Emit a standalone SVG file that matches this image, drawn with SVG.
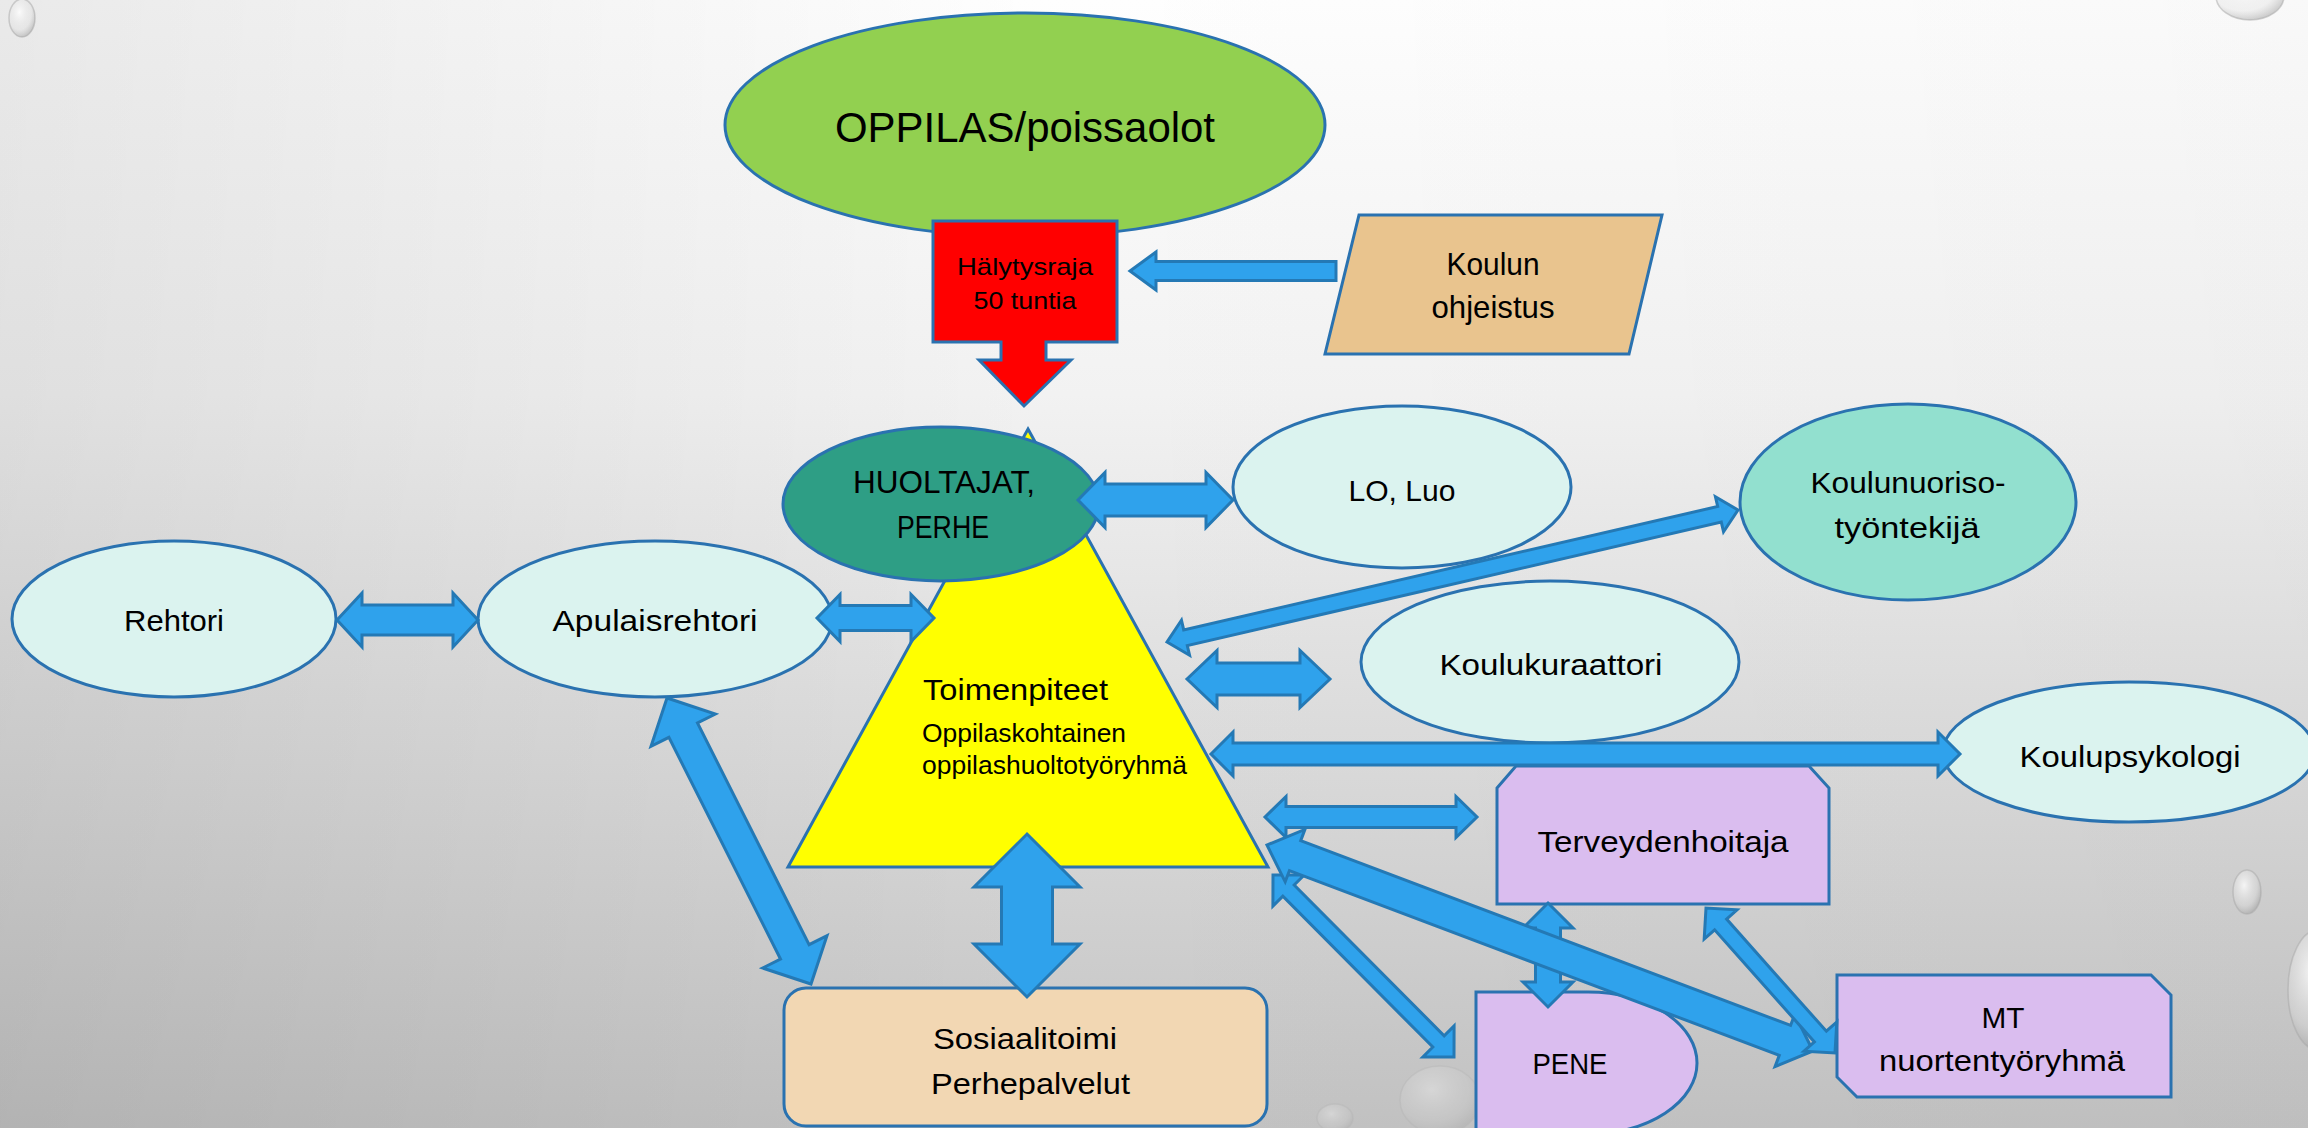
<svg xmlns="http://www.w3.org/2000/svg" width="2308" height="1128" viewBox="0 0 2308 1128">
<defs>
<linearGradient id="bgv" x1="0" y1="0" x2="0" y2="1">
<stop offset="0" stop-color="#FEFEFE"/>
<stop offset="0.35" stop-color="#F2F2F2"/>
<stop offset="1" stop-color="#C2C2C2"/>
</linearGradient>
<linearGradient id="bgh" x1="0" y1="0" x2="1" y2="0">
<stop offset="0" stop-color="#000" stop-opacity="0.08"/>
<stop offset="0.45" stop-color="#000" stop-opacity="0"/>
<stop offset="1" stop-color="#000" stop-opacity="0.02"/>
</linearGradient>
<radialGradient id="drop" cx="0.4" cy="0.35" r="0.65">
<stop offset="0" stop-color="#FFFFFF" stop-opacity="0.8"/>
<stop offset="0.7" stop-color="#E0E0E0" stop-opacity="0.35"/>
<stop offset="1" stop-color="#9A9A9A" stop-opacity="0.45"/>
</radialGradient>
<style>
.n{stroke:#2A72B0;stroke-width:3}
.a{fill:#2FA2EC;stroke:#2479B5;stroke-width:3;stroke-linejoin:miter}
.t{font-family:"Liberation Sans",Arial,sans-serif;fill:#000}
.lt{fill:#DBF3EF}
.pu{fill:#DABDEF}
.dr{fill:url(#drop);stroke:#A8A8A8;stroke-width:1.5;stroke-opacity:0.5}
</style>
</defs>
<rect width="2308" height="1128" fill="url(#bgv)"/>
<rect width="2308" height="1128" fill="url(#bgh)"/>
<g id="droplets">
<ellipse class="dr" cx="22" cy="18" rx="13" ry="19"/>
<ellipse class="dr" cx="2250" cy="-4" rx="34" ry="24"/>
<ellipse class="dr" cx="2247" cy="892" rx="14" ry="22"/>
<ellipse class="dr" cx="2318" cy="990" rx="30" ry="60"/>
<ellipse class="dr" cx="1440" cy="1100" rx="40" ry="34" opacity="0.4"/>
<ellipse class="dr" cx="1335" cy="1118" rx="18" ry="14" opacity="0.4"/>
</g>
<g id="oppilas">
<ellipse class="n" cx="1025" cy="125" rx="300" ry="112" fill="#92D050"/>
<text class="t" x="1025" y="142" font-size="42" text-anchor="middle" textLength="380" lengthAdjust="spacingAndGlyphs">OPPILAS/poissaolot</text>
</g>
<g id="halytysraja">
<polygon class="n" fill="#FF0000" points="933,221 1117,221 1117,342 1046,342 1046,360 1071,360 1024,406 979,360 1001,360 1001,342 933,342"/>
<text class="t" x="1025" y="275" font-size="24" text-anchor="middle" textLength="136" lengthAdjust="spacingAndGlyphs">Hälytysraja</text>
<text class="t" x="1025" y="309" font-size="24" text-anchor="middle" textLength="103" lengthAdjust="spacingAndGlyphs">50 tuntia</text>
</g>
<g id="koulun-ohjeistus">
<polygon class="n" fill="#E9C48E" points="1359,215 1662,215 1629,354 1325,354"/>
<text class="t" x="1493" y="275" font-size="32" text-anchor="middle" textLength="93" lengthAdjust="spacingAndGlyphs">Koulun</text>
<text class="t" x="1493" y="318" font-size="32" text-anchor="middle" textLength="123" lengthAdjust="spacingAndGlyphs">ohjeistus</text>
</g>
<g id="toimenpiteet">
<polygon class="n" fill="#FFFF00" points="1028,429 1268,867 788,867"/>
<text class="t" x="923" y="700" font-size="30" textLength="185" lengthAdjust="spacingAndGlyphs">Toimenpiteet</text>
<text class="t" x="922" y="742" font-size="26" textLength="204" lengthAdjust="spacingAndGlyphs">Oppilaskohtainen</text>
<text class="t" x="922" y="774" font-size="26" textLength="265" lengthAdjust="spacingAndGlyphs">oppilashuoltotyöryhmä</text>
</g>
<g id="huoltajat">
<ellipse class="n" cx="941" cy="504" rx="158" ry="77" fill="#2E9E85"/>
<text class="t" x="944" y="493" font-size="32" text-anchor="middle" textLength="182" lengthAdjust="spacingAndGlyphs">HUOLTAJAT,</text>
<text class="t" x="943" y="538" font-size="32" text-anchor="middle" textLength="92" lengthAdjust="spacingAndGlyphs">PERHE</text>
</g>
<g id="lo-luo">
<ellipse class="n lt" cx="1402" cy="487" rx="169" ry="81"/>
<text class="t" x="1402" y="501" font-size="30" text-anchor="middle" textLength="107" lengthAdjust="spacingAndGlyphs">LO, Luo</text>
</g>
<g id="koulunuorisotyontekija">
<ellipse class="n" cx="1908" cy="502" rx="168" ry="98" fill="#92E0CF"/>
<text class="t" x="1908" y="493" font-size="30" text-anchor="middle" textLength="195" lengthAdjust="spacingAndGlyphs">Koulunuoriso-</text>
<text class="t" x="1907" y="538" font-size="30" text-anchor="middle" textLength="145" lengthAdjust="spacingAndGlyphs">työntekijä</text>
</g>
<g id="rehtori">
<ellipse class="n lt" cx="174" cy="619" rx="162" ry="78"/>
<text class="t" x="174" y="631" font-size="30" text-anchor="middle" textLength="100" lengthAdjust="spacingAndGlyphs">Rehtori</text>
</g>
<g id="apulaisrehtori">
<ellipse class="n lt" cx="655" cy="619" rx="177" ry="78"/>
<text class="t" x="655" y="631" font-size="30" text-anchor="middle" textLength="205" lengthAdjust="spacingAndGlyphs">Apulaisrehtori</text>
</g>
<g id="koulukuraattori">
<ellipse class="n lt" cx="1550" cy="662" rx="189" ry="81"/>
<text class="t" x="1551" y="675" font-size="30" text-anchor="middle" textLength="223" lengthAdjust="spacingAndGlyphs">Koulukuraattori</text>
</g>
<g id="koulupsykologi">
<ellipse class="n lt" cx="2129" cy="752" rx="186" ry="70"/>
<text class="t" x="2130" y="767" font-size="30" text-anchor="middle" textLength="221" lengthAdjust="spacingAndGlyphs">Koulupsykologi</text>
</g>
<g id="terveydenhoitaja">
<path class="n pu" d="M1497,788 L1516,766 L1809,766 L1829,788 L1829,904 L1497,904 Z"/>
<text class="t" x="1663" y="852" font-size="30" text-anchor="middle" textLength="251" lengthAdjust="spacingAndGlyphs">Terveydenhoitaja</text>
</g>
<g id="pene">
<path class="n pu" d="M1476,992 L1588,992 A109,71 0 0 1 1588,1134 L1476,1134 Z"/>
<text class="t" x="1570" y="1074" font-size="30" text-anchor="middle" textLength="75" lengthAdjust="spacingAndGlyphs">PENE</text>
</g>
<g id="mt-nuortentyoryhma">
<path class="n pu" d="M1837,975 L2151,975 L2171,995 L2171,1097 L1857,1097 L1837,1077 Z"/>
<text class="t" x="2003" y="1028" font-size="30" text-anchor="middle" textLength="43" lengthAdjust="spacingAndGlyphs">MT</text>
<text class="t" x="2002" y="1071" font-size="30" text-anchor="middle" textLength="246" lengthAdjust="spacingAndGlyphs">nuortentyöryhmä</text>
</g>
<g id="sosiaalitoimi">
<rect class="n" x="784" y="988" width="483" height="138" rx="22" fill="#F2D7B3"/>
<text class="t" x="933" y="1049" font-size="30" textLength="184" lengthAdjust="spacingAndGlyphs">Sosiaalitoimi</text>
<text class="t" x="931" y="1094" font-size="30" textLength="199" lengthAdjust="spacingAndGlyphs">Perhepalvelut</text>
</g>
<g id="connectors">
<polygon class="a" points="1130,271 1156,252 1156,261.5 1336,261.5 1336,280.5 1156,280.5 1156,290"/>
<polygon class="a" points="1078,500 1105,472.5 1105,484 1206,484 1206,472.5 1233,500 1206,527.5 1206,516 1105,516 1105,527.5"/>
<polygon class="a" points="337,620 362,593 362,605 453,605 453,593 478,620 453,647 453,635 362,635 362,647"/>
<polygon class="a" points="817,618 840,594.5 840,605.5 911,605.5 911,594.5 934,618 911,641.5 911,630.5 840,630.5 840,641.5"/>
<polygon class="a" points="1167,642 1189.56,655.26 1187.31,645.51 1721.29,522.07 1723.54,531.82 1738,510 1715.44,496.74 1717.69,506.49 1183.71,629.93 1181.46,620.18"/>
<polygon class="a" points="1187,679 1217,650.5 1217,663 1300,663 1300,650.5 1330,679 1300,707.5 1300,695 1217,695 1217,707.5"/>
<polygon class="a" points="1211,754 1233,732 1233,743 1938,743 1938,732 1960,754 1938,776 1938,765 1233,765 1233,776"/>
<polygon class="a" points="1265,817 1286,796.5 1286,806.5 1456,806.5 1456,796.5 1477,817 1456,837.5 1456,827.5 1286,827.5 1286,837.5"/>
<polygon class="a" points="667,698 651.03,746.35 668.9,737.36 780.52,959.04 762.65,968.03 811,984 826.97,935.65 809.1,944.64 697.48,722.96 715.35,713.97"/>
<polygon class="a" points="1027,834 1080,887 1052.5,887 1052.5,944 1080,944 1027,997 974,944 1001.5,944 1001.5,887 974,887"/>
<polygon class="a" points="1548,903 1573,928 1560.5,928 1560.5,982 1573,982 1548,1007 1523,982 1535.5,982 1535.5,928 1523,928"/>
<polygon class="a" points="1273,875 1272.91,906.11 1282.84,896.24 1432.82,1047.04 1422.89,1056.91 1454,1057 1454.09,1025.89 1444.16,1035.76 1294.18,884.96 1304.11,875.09"/>
<polygon class="a" points="1267,845 1285.19,881.79 1289.42,870.56 1779.28,1055.38 1775.05,1066.61 1813,1051 1794.81,1014.21 1790.58,1025.44 1300.72,840.62 1304.95,829.39"/>
<polygon class="a" points="1706,908 1704.18,939.06 1714.64,929.76 1814.4,1041.88 1803.94,1051.18 1835,1053 1836.82,1021.94 1826.36,1031.24 1726.6,919.12 1737.06,909.82"/>
</g>
</svg>
